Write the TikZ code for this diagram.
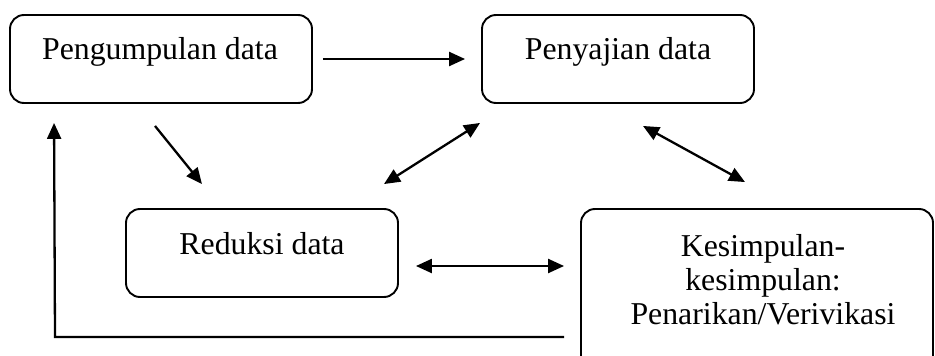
\documentclass[tikz,border=0pt]{standalone}
\usepackage{fontspec}
\setmainfont{Liberation Serif}
\usetikzlibrary{arrows.meta,calc}
\begin{document}
\begin{tikzpicture}[x=1pt,y=-1pt,
  box/.style={draw=black,line width=1.9pt,rounded corners=14pt,fill=white,inner sep=0pt},
  lbl/.style={inner sep=0pt,anchor=base,font=\fontsize{31.8}{34}\selectfont,align=center},
  arr/.style={line width=2.3pt,-{Triangle[length=16pt,width=14pt]}},
  darr/.style={line width=2.3pt,{Triangle[length=16pt,width=14pt]}-{Triangle[length=16pt,width=14pt]}}]
\useasboundingbox (0,0) rectangle (935,356);
\clip (0,0) rectangle (935,356);
\node[box,minimum width=302pt,minimum height=88pt] (b1) at (161,59) {};
\node[box,minimum width=272pt,minimum height=88pt] (b2) at (618,59) {};
\node[box,minimum width=272pt,minimum height=88pt] (b3) at (262,253) {};
\node[box,minimum width=352pt,minimum height=171pt] (b4) at (757,294.5) {};
\node[lbl] (t1) at (160,59) {Pengumpulan data};
\node[lbl] (t2) at (618,59) {Penyajian data};
\node[lbl] (t3) at (262,254) {Reduksi data};
\node[lbl] (t4) at (763,324) {Kesimpulan-\\kesimpulan:\\Penarikan/Verivikasi};
\draw[arr] ($(b1.east)+(10,0)$) -- ($(b2.west)+(-16,0)$);
\draw[arr] ($(b1.south)+(-6,22)$) -- ($(b3.north)+(-60,-24)$);
\draw[darr] ($(b3.north)+(122,-24)$) -- ($(b2.south west)+(-1,19)$);
\draw[darr] ($(b2.south)+(25,22)$) -- ($(b4.north)+(-12,-26)$);
\draw[darr] ($(b3.east)+(17,13)$) -- ($(b4.west)+(-16,-28.5)$);
\coordinate (fb) at ($(b4.west)+(-16,42.5)$);
\draw[line width=2.3pt,-{Triangle[length=16pt,width=14pt]}] (fb) -- (55,0 |- fb) -- ($(b1.south west)+(45,19)$);
\end{tikzpicture}
\end{document}
